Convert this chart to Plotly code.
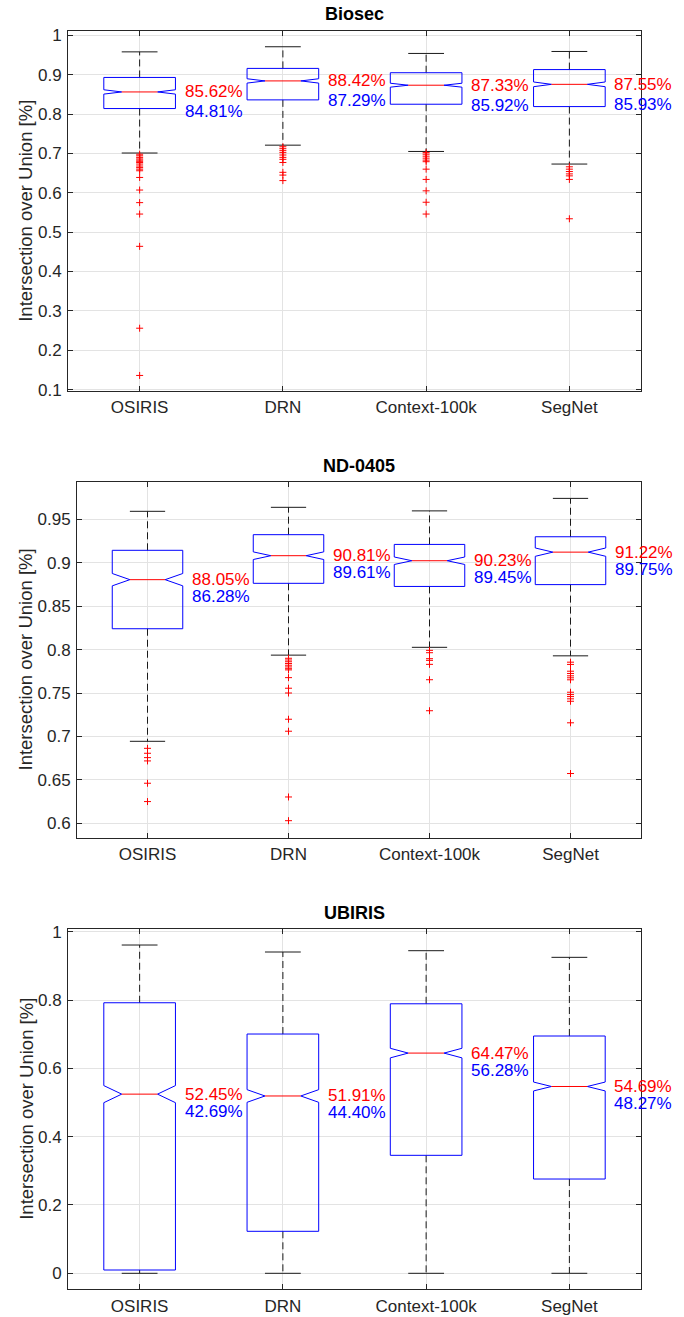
import plotly.graph_objects as go

# ---------------- data ----------------
methods = ["OSIRIS", "DRN", "Context-100k", "SegNet"]
positions = [1, 2, 3, 4]
titles = ["Biosec", "ND-0405", "UBIRIS"]
y_label = "Intersection over Union [%]"

# Biosec
biosec_q1 = [0.814, 0.836, 0.825, 0.819]
biosec_q3 = [0.893, 0.916, 0.905, 0.913]
biosec_notch = [0.0055, 0.0055, 0.005, 0.006]
biosec_low = [0.701, 0.721, 0.705, 0.673]
biosec_high = [0.958, 0.971, 0.954, 0.959]
biosec_median_pct = [85.62, 88.42, 87.33, 87.55]
biosec_mean_pct = [84.81, 87.29, 85.92, 85.93]
biosec_outliers = [
    [0.698, 0.694, 0.690, 0.686, 0.683, 0.680, 0.677, 0.673, 0.668, 0.664, 0.660, 0.656,
     0.639, 0.607, 0.575, 0.546, 0.464, 0.256, 0.136],
    [0.717, 0.712, 0.707, 0.702, 0.696, 0.690, 0.685, 0.677, 0.652, 0.645, 0.631],
    [0.702, 0.698, 0.693, 0.688, 0.683, 0.679, 0.660, 0.634, 0.605, 0.576, 0.546],
    [0.666, 0.660, 0.654, 0.648, 0.643, 0.634, 0.534],
]
biosec_ticks = [0.1, 0.2, 0.3, 0.4, 0.5, 0.6, 0.7, 0.8, 0.9, 1.0]
biosec_ticktext = ["0.1", "0.2", "0.3", "0.4", "0.5", "0.6", "0.7", "0.8", "0.9", "1"]

# ND-0405
nd_q1 = [0.824, 0.8763, 0.8727, 0.8748]
nd_q3 = [0.9143, 0.9323, 0.9211, 0.9299]
nd_notch = [0.0071, 0.0044, 0.0043, 0.0048]
nd_low = [0.6944, 0.7936, 0.8026, 0.7928]
nd_high = [0.9592, 0.9638, 0.9597, 0.9741]
nd_median_pct = [88.05, 90.81, 90.23, 91.22]
nd_mean_pct = [86.28, 89.61, 89.45, 89.75]
nd_outliers = [
    [0.6863, 0.6806, 0.6756, 0.6718, 0.6461, 0.625],
    [0.790, 0.788, 0.786, 0.784, 0.782, 0.780, 0.778, 0.7766, 0.7677, 0.7555, 0.750,
     0.7198, 0.706, 0.6303, 0.603],
    [0.7991, 0.7964, 0.7895, 0.7876, 0.7830, 0.7653, 0.7296],
    [0.7855, 0.7829, 0.7751, 0.7725, 0.7698, 0.7675, 0.7652, 0.7509, 0.7482, 0.7459,
     0.7433, 0.7405, 0.7157, 0.6573],
]
nd_ticks = [0.6, 0.65, 0.7, 0.75, 0.8, 0.85, 0.9, 0.95]
nd_ticktext = ["0.6", "0.65", "0.7", "0.75", "0.8", "0.85", "0.9", "0.95"]

# UBIRIS
ub_q1 = [0.0097, 0.123, 0.3454, 0.276]
ub_q3 = [0.792, 0.7005, 0.789, 0.6947]
ub_notch = [0.025, 0.0185, 0.014, 0.013]
ub_low = [0.0, 0.0, 0.0, 0.0]
ub_high = [0.961, 0.9406, 0.9444, 0.925]
ub_median_pct = [52.45, 51.91, 64.47, 54.69]
ub_mean_pct = [42.69, 44.40, 56.28, 48.27]
ub_outliers = [[], [], [], []]
ub_ticks = [0, 0.2, 0.4, 0.6, 0.8, 1.0]
ub_ticktext = ["0", "0.2", "0.4", "0.6", "0.8", "1"]

# ---------------- styling / layout constants ----------------
W, H = 684, 1317
FONT = "Liberation Sans, Arial, Helvetica, sans-serif"
AX_COLOR = "#262626"
GRID = "#e3e3e3"
BLUE = "#0000ff"
RED = "#ff0000"

panels = [
    dict(q1=biosec_q1, q3=biosec_q3, notch=biosec_notch, low=biosec_low, high=biosec_high,
         med=biosec_median_pct, mean=biosec_mean_pct, out=biosec_outliers,
         ticks=biosec_ticks, ticktext=biosec_ticktext, yrange=[0.0965, 1.011],
         px=(68, 641, 31, 391), title_y=14.5, shift=20),
    dict(q1=nd_q1, q3=nd_q3, notch=nd_notch, low=nd_low, high=nd_high,
         med=nd_median_pct, mean=nd_mean_pct, out=nd_outliers,
         ticks=nd_ticks, ticktext=nd_ticktext, yrange=[0.5834, 0.9933],
         px=(77, 641, 481.7, 837.7), title_y=466, shift=17),
    dict(q1=ub_q1, q3=ub_q3, notch=ub_notch, low=ub_low, high=ub_high,
         med=ub_median_pct, mean=ub_mean_pct, out=ub_outliers,
         ticks=ub_ticks, ticktext=ub_ticktext, yrange=[-0.0468, 1.0088],
         px=(68, 641, 928.7, 1289.3), title_y=912.7, shift=17),
]

HALF = 0.25   # half box width
NIN = 0.125   # notch inner half width
CAP = 0.125   # whisker cap half width

fig = go.Figure()
annotations = []

for i, p in enumerate(panels):
    ax = "" if i == 0 else str(i + 1)
    xr, yr = "x" + ax, "y" + ax
    box_x, box_y = [], []
    med_x, med_y = [], []
    wh_x, wh_y = [], []
    cap_x, cap_y = [], []
    out_x, out_y = [], []
    for j, c in enumerate(positions):
        q1, q3 = p["q1"][j], p["q3"][j]
        m = p["med"][j] / 100.0
        n = p["notch"][j]
        lo, hi = m - n, m + n
        box_x += [c - HALF, c - HALF, c - NIN, c - HALF, c - HALF, c + HALF, c + HALF,
                  c + NIN, c + HALF, c + HALF, c - HALF, None]
        box_y += [q1, lo, m, hi, q3, q3, hi, m, lo, q1, q1, None]
        med_x += [c - NIN, c + NIN, None]
        med_y += [m, m, None]
        wh_x += [c, c, None, c, c, None]
        wh_y += [q3, p["high"][j], None, q1, p["low"][j], None]
        cap_x += [c - CAP, c + CAP, None, c - CAP, c + CAP, None]
        cap_y += [p["high"][j], p["high"][j], None, p["low"][j], p["low"][j], None]
        for v in p["out"][j]:
            out_x.append(c)
            out_y.append(v)
        annotations.append(dict(x=c + 0.30, y=m, xref=xr, yref=yr, text=f"{p['med'][j]:.2f}%",
                                showarrow=False, xanchor="left", yanchor="middle",
                                font=dict(family=FONT, size=17, color=RED)))
        annotations.append(dict(x=c + 0.30, y=m, xref=xr, yref=yr, text=f"{p['mean'][j]:.2f}%",
                                showarrow=False, xanchor="left", yanchor="middle",
                                yshift=-p["shift"],
                                font=dict(family=FONT, size=17, color=BLUE)))

    fig.add_trace(go.Scatter(x=wh_x, y=wh_y, mode="lines", xaxis=xr, yaxis=yr,
                             line=dict(color="#1a1a1a", width=1, dash="7px,4px"),
                             hoverinfo="skip", showlegend=False))
    fig.add_trace(go.Scatter(x=cap_x, y=cap_y, mode="lines", xaxis=xr, yaxis=yr,
                             line=dict(color="#1a1a1a", width=1),
                             hoverinfo="skip", showlegend=False))
    fig.add_trace(go.Scatter(x=box_x, y=box_y, mode="lines", xaxis=xr, yaxis=yr,
                             line=dict(color=BLUE, width=1),
                             hoverinfo="skip", showlegend=False))
    fig.add_trace(go.Scatter(x=med_x, y=med_y, mode="lines", xaxis=xr, yaxis=yr,
                             line=dict(color=RED, width=1),
                             hoverinfo="skip", showlegend=False))
    fig.add_trace(go.Scatter(x=out_x, y=out_y, mode="markers", xaxis=xr, yaxis=yr,
                             marker=dict(symbol="cross-thin", size=5,
                                         line=dict(color=RED, width=1), color=RED),
                             hoverinfo="skip", showlegend=False))

    x0, x1, ytop, ybot = p["px"]
    common = dict(showline=True, linecolor=AX_COLOR, linewidth=1, mirror="ticks",
                  ticks="inside", ticklen=5, tickcolor=AX_COLOR, tickwidth=1,
                  showgrid=True, gridcolor=GRID, gridwidth=1, zeroline=False,
                  automargin=False,
                  tickfont=dict(family=FONT, size=17, color=AX_COLOR))
    fig.update_layout(**{
        "xaxis" + ax: dict(common, domain=[x0 / W, x1 / W], anchor=yr,
                           range=[0.5, 4.5], tickmode="array", tickvals=positions,
                           ticktext=methods, ticklabelstandoff=1),
        "yaxis" + ax: dict(common, domain=[1 - ybot / H, 1 - ytop / H], anchor=xr,
                           range=p["yrange"], tickmode="array", tickvals=p["ticks"],
                           ticktext=p["ticktext"], ticklabelstandoff=2),
    })
    # title
    annotations.append(dict(x=(x0 + x1) / 2 / W, y=1 - p["title_y"] / H, xref="paper", yref="paper",
                            text="<b>" + titles[i] + "</b>", showarrow=False,
                            xanchor="center", yanchor="middle",
                            font=dict(family=FONT, size=18, color="#000000")))
    # y label
    annotations.append(dict(x=25.8 / W, y=1 - (ytop + ybot) / 2 / H, xref="paper", yref="paper",
                            text=y_label, textangle=-90, showarrow=False,
                            xanchor="center", yanchor="middle",
                            font=dict(family=FONT, size=18.5, color=AX_COLOR)))

fig.update_layout(width=W, height=H, margin=dict(l=0, r=0, t=0, b=0),
                  paper_bgcolor="white", plot_bgcolor="white",
                  annotations=annotations, showlegend=False,
                  font=dict(family=FONT))

fig.write_html("out.html")
